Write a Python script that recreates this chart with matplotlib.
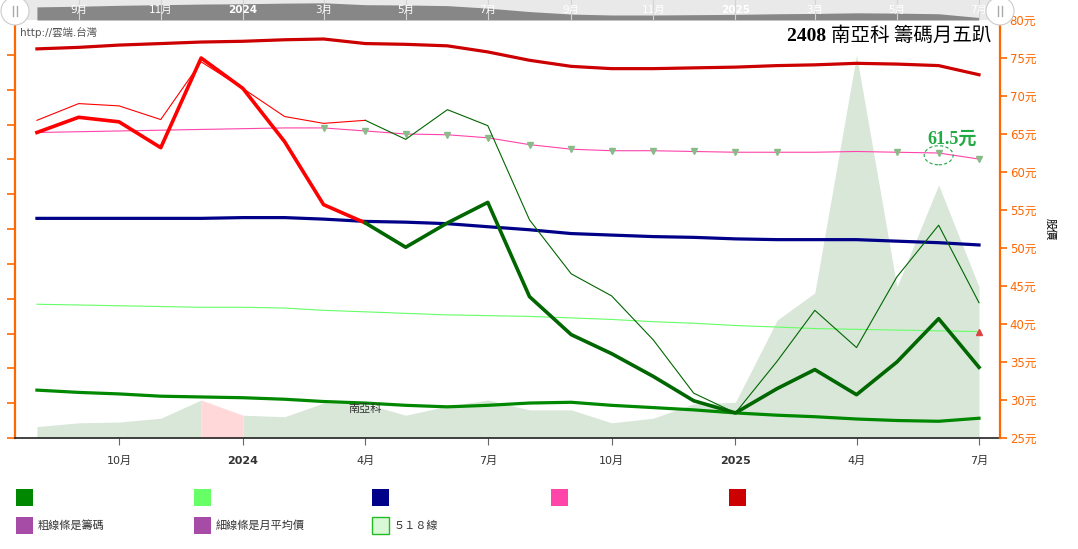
import numpy as np
import pandas as pd
import matplotlib
matplotlib.use("Agg")
from matplotlib import pyplot as plt
from matplotlib.patches import Ellipse, Rectangle
from matplotlib.lines import Line2D

plt.rcParams['font.family'] = ['DejaVu Sans', 'Noto Sans CJK TC']

months = pd.date_range("2023-08-01", periods=24, freq="MS")

# thick lines = chips, thin lines = monthly average price (in 元 scale)
chips_darkred = [76.2, 76.4, 76.7, 76.9, 77.1, 77.2, 77.4, 77.5, 76.9, 76.8, 76.6, 75.8,
                 74.7, 73.9, 73.6, 73.6, 73.7, 73.8, 74.0, 74.1, 74.3, 74.2, 74.0, 72.8]
chips_main = [65.2, 67.2, 66.6, 63.2, 75.0, 71.0, 64.0, 55.7, 53.3, 50.1, 53.3, 56.0,
              43.6, 38.6, 36.1, 33.1, 29.9, 28.3, 31.5, 34.0, 30.7, 35.0, 40.7, 34.3]
avg_price = [66.8, 69.0, 68.7, 66.9, 74.5, 71.0, 67.3, 66.4, 66.8, 64.3, 68.2, 66.1,
             53.7, 46.6, 43.7, 37.9, 30.9, 28.3, 35.1, 41.8, 36.9, 46.2, 53.0, 42.8]
chips_navy = [53.9, 53.9, 53.9, 53.9, 53.9, 54.0, 54.0, 53.8, 53.5, 53.4, 53.2, 52.8,
              52.4, 51.9, 51.7, 51.5, 51.4, 51.2, 51.1, 51.1, 51.1, 50.9, 50.7, 50.4]
avg_pink = [65.2, 65.3, 65.4, 65.5, 65.6, 65.7, 65.8, 65.8, 65.4, 65.0, 64.9, 64.5,
            63.6, 63.0, 62.8, 62.8, 62.7, 62.6, 62.6, 62.6, 62.7, 62.6, 62.5, 61.7]
avg_lightgreen = [42.6, 42.5, 42.4, 42.3, 42.2, 42.2, 42.1, 41.8, 41.6, 41.4, 41.2, 41.1,
                  41.0, 40.8, 40.6, 40.3, 40.1, 39.8, 39.6, 39.4, 39.3, 39.2, 39.1, 39.0]
chips_green = [31.3, 31.0, 30.8, 30.5, 30.4, 30.3, 30.1, 29.8, 29.6, 29.3, 29.1, 29.3,
               29.6, 29.7, 29.3, 29.0, 28.7, 28.3, 28.0, 27.8, 27.5, 27.3, 27.2, 27.6]
line518 = [26.5, 27.0, 27.1, 27.6, 30.0, 28.0, 27.8, 29.6, 29.5, 28.0, 29.2, 30.0,
           28.7, 28.7, 27.0, 27.6, 29.5, 29.7, 40.5, 44.1, 75.4, 44.9, 58.3, 44.9]

red_until = 8          # first points drawn red, rest green
marker_idx = list(range(7, 19)) + [21, 22, 23]

x_ticks = pd.to_datetime(["2023-10-01", "2024-01-01", "2024-04-01", "2024-07-01",
                          "2024-10-01", "2025-01-01", "2025-04-01", "2025-07-01"])
x_labels = ["10月", "2024", "4月", "7月", "10月", "2025", "4月", "7月"]
nav_ticks = pd.date_range("2023-09-01", periods=12, freq="2MS")
nav_labels = ["9月", "11月", "2024", "3月", "5月", "7月", "9月", "11月", "2025", "3月", "5月", "7月"]

legend_colors = ["#008800", "#66ff66", "#000088", "#ff44aa", "#cc0000"]
orange = "#ff6600"

W, H = 1078, 549
fig = plt.figure(figsize=(W / 100, H / 100), dpi=100)


def fx(x):
    return x / W


def fy(y):
    return 1 - y / H


ax = fig.add_axes([fx(15), fy(438), fx(1000) - fx(15), fy(20) - fy(438)])
xmin = months[0] - pd.Timedelta(days=16.3)
xmax = months[-1] + pd.Timedelta(days=15.6)
ax.set_xlim(xmin, xmax)
ax.set_ylim(25, 80)

# 518 area, pink over Dec -> Jan
ax.fill_between(months[:5], line518[:5], 25, color="#d9e7d9", lw=0, zorder=1)
ax.fill_between(months[4:6], line518[4:6], 25, color="#ffd9d9", lw=0, zorder=1)
ax.fill_between(months[5:], line518[5:], 25, color="#d9e7d9", lw=0, zorder=1)

ax.plot(months, chips_green, color="#008800", lw=2.3, zorder=3)
ax.plot(months, avg_lightgreen, color="#66ff66", lw=0.8, zorder=3)
ax.plot(months, chips_navy, color="#000088", lw=2.3, zorder=3)
ax.plot(months, avg_pink, color="#ff44aa", lw=0.8, zorder=3)
ax.plot(months[marker_idx], np.array(avg_pink)[marker_idx], ls="none", marker="v",
        ms=4.5, color="#88bb88", zorder=4)
ax.plot(months[-1:], avg_lightgreen[-1:], ls="none", marker="^", ms=4.5, color="#dd4444", zorder=4)
ax.plot(months, chips_darkred, color="#cc0000", lw=2.3, zorder=3)

ax.plot(months[:red_until + 1], avg_price[:red_until + 1], color="#ff0000", lw=0.8, zorder=5)
ax.plot(months[red_until:], avg_price[red_until:], color="#006600", lw=0.8, zorder=5)
ax.plot(months[:red_until + 1], chips_main[:red_until + 1], color="#ff0000", lw=2.6, zorder=6)
ax.plot(months[red_until:], chips_main[red_until:], color="#006600", lw=2.6, zorder=6)

ax.annotate("南亞科", (months[8], line518[8]), xytext=(0, -4), textcoords="offset points",
            ha="center", va="center", fontsize=8, color="#333333", zorder=7)

# 61.5元 label with dashed ellipse
ax.add_patch(Ellipse((months[22], avg_pink[22] - 0.3), 21.5, 2.5, fill=False,
                     ec="#22aa44", ls=(0, (3, 2)), lw=0.8, zorder=7))
ax.annotate("61.5元", (months[22], avg_pink[22]), xytext=(9.5, 10), textcoords="offset points",
            ha="center", va="center", fontsize=13, fontweight="bold", color="#22aa44",
            family=["Liberation Serif", "Noto Sans CJK TC"], zorder=8)

# axes styling
for s in ["top", "right"]:
    ax.spines[s].set_visible(False)
ax.spines["left"].set_color(orange)
ax.spines["left"].set_linewidth(1.6)
ax.spines["bottom"].set_color("#222222")
ax.spines["bottom"].set_linewidth(1.2)
ax.set_yticks(np.linspace(25, 80, 13))
ax.tick_params(axis="y", which="both", left=True, labelleft=False, color=orange, length=6, width=1.2)
ax.set_xticks(x_ticks)
ax.set_xticklabels(x_labels)
ax.tick_params(axis="x", length=5, color="#666666", labelsize=8, labelcolor="#333333", pad=8)
for lab in ax.get_xticklabels():
    if lab.get_text() in ("2024", "2025"):
        lab.set_fontweight("bold")

ax2 = ax.twinx()
ax2.set_ylim(25, 80)
ax2.set_yticks(range(25, 81, 5))
ax2.set_yticklabels([f"{v}元" for v in range(25, 81, 5)])
for s in ["top", "left", "bottom"]:
    ax2.spines[s].set_visible(False)
ax2.spines["right"].set_color(orange)
ax2.spines["right"].set_linewidth(1.6)
ax2.tick_params(axis="y", color=orange, labelcolor=orange, length=5, width=1.2, labelsize=8.5, pad=2)
ax2.set_ylabel("股價", rotation=270, fontsize=8, labelpad=14, color="black")

# navigator strip at the top
nav = fig.add_axes([fx(15), fy(20), fx(1000) - fx(15), 20 / H])
nav.set_xlim(xmin, xmax)
nav.set_ylim(72.0, 78.4)
nav.set_facecolor("#e9e9e9")
nav.fill_between(months, chips_darkred, 72.0, color="#878787", lw=0)
for t, lab in zip(nav_ticks, nav_labels):
    nav.axvline(t, color="#d4d4d4", lw=0.8)
    nav.text(t, 75.2, lab, color="white", ha="center", va="center", fontsize=7.5,
             fontweight="bold" if lab.startswith("20") else "normal")
nav.set_xticks([])
nav.set_yticks([])
for s in nav.spines.values():
    s.set_visible(False)

# navigator handles
for hx in (15, 1000):
    fig.patches.append(Ellipse((fx(hx), fy(11)), 28 / W, 28 / H, transform=fig.transFigure,
                               fc="white", ec="#cccccc", lw=0.8, zorder=10))
    for dx in (-2, 2):
        fig.lines.append(Line2D([fx(hx + dx)] * 2, [fy(6), fy(16)], transform=fig.transFigure,
                                color="#aaaaaa", lw=1, zorder=11))

# texts
fig.text(fx(20), fy(32), "http://雲端.台灣", fontsize=7.5, color="#555555", va="center")
cjk = fig.text(fx(991), fy(35), "南亞科 籌碼月五趴", fontsize=14, ha="right", va="center",
               color="black", family=["Noto Sans CJK TC"])
ax.annotate("2408 ", xy=(0, 0.45), xycoords=cjk, ha="right", va="center", fontsize=14,
            fontweight="bold", family=["Liberation Serif"], annotation_clip=False)

# legend
for i, c in enumerate(legend_colors):
    x0 = [15.5, 194, 372, 551, 729][i]
    fig.patches.append(Rectangle((fx(x0), fy(505.5)), 17 / W, 17 / H, transform=fig.transFigure,
                                 fc=c, ec="none"))
row2 = [("#a64ca6", "none", "粗線條是籌碼"), ("#a64ca6", "none", "細線條是月平均價"),
        ("#d8f8d8", "#22bb22", "５１８線")]
for i, (fc, ec, lab) in enumerate(row2):
    x0 = [15.5, 194, 372][i]
    fig.patches.append(Rectangle((fx(x0), fy(534)), 17 / W, 17 / H, transform=fig.transFigure,
                                 fc=fc, ec=ec, lw=1))
    fig.text(fx(x0 + 22), fy(525.5), lab, fontsize=8, color="#333333", va="center")

fig.savefig("out.png", dpi=100)
